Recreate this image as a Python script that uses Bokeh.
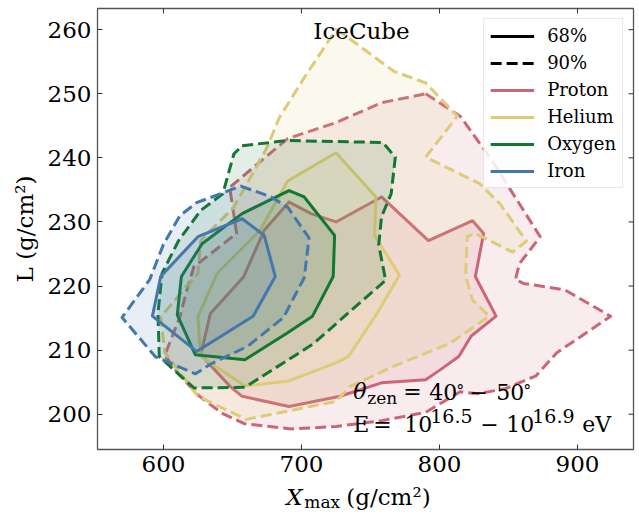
import math
from bokeh.plotting import figure
from bokeh.layouts import column
from bokeh.models import Range1d, FixedTicker, Label, Legend, LegendItem
from bokeh.embed import file_html
from bokeh.resources import INLINE

# ---------------- data ----------------
x_ticks = [600, 700, 800, 900]
y_ticks = [200, 210, 220, 230, 240, 250, 260]

species_names = ["Proton", "Helium", "Oxygen", "Iron"]
species_colors = ["#CC6677", "#DDCC77", "#117733", "#4477AA"]

proton_90_x = [790, 815, 838, 858, 873, 858, 855, 861, 891, 924, 903, 885, 870, 848, 828,
               815, 790, 758, 725, 693, 659, 642, 625, 610, 601, 612, 617, 622, 653, 648,
               690, 725, 758]
proton_90_y = [250, 246.5, 239.6, 232.8, 227.7, 223.5, 221, 220.4, 219.4, 215.3, 212.2,
               209.6, 206, 204, 203.2, 203.5, 200.3, 199, 198.1, 197.7, 198.5, 200.2, 203,
               206.5, 209.2, 215.3, 219.4, 223, 228.2, 235.4, 243, 245.5, 248.6]
proton_68_x = [691, 707, 725, 758, 792, 824, 832, 826, 841, 823, 814, 801, 790, 758, 728,
               691, 657, 648, 627, 634, 658, 673]
proton_68_y = [233.1, 231.3, 230, 233.9, 227.1, 230.2, 228.2, 221.5, 215.3, 212.2, 209,
               207, 205.4, 204.9, 202.8, 201.2, 202.8, 204.4, 209.3, 215.7, 221.4, 228.7]

helium_90_x = [725, 731, 767, 790, 813, 790, 829, 844, 863, 853, 826, 820, 819, 824, 836,
               808, 767, 735, 725, 660, 625, 601, 598, 625, 627, 651, 675, 684, 702]
helium_90_y = [260, 259.2, 253.5, 251.7, 246.5, 240.1, 236, 232.8, 227, 225.3, 228.2,
               227.7, 221.5, 217.8, 215.3, 211.1, 207.5, 204.3, 202, 199.2, 202.8, 209.6,
               215.2, 222, 227.1, 232.3, 241.6, 246.3, 252.5]
helium_68_x = [725, 754, 753, 771, 755, 734, 725, 691, 659, 627, 625, 639, 670, 690]
helium_68_y = [240.8, 233.9, 227.9, 221.7, 215.8, 209, 208, 205.2, 204.4, 209, 215.2, 222,
               228.7, 236.4]

oxygen_90_x = [657, 690, 759, 768, 765, 758, 756, 761, 708, 659, 622, 597, 596, 599, 611,
               627, 643, 651]
oxygen_90_y = [241.9, 242.7, 242.4, 240.1, 234.4, 230.8, 226.4, 220.9, 210.9, 204.2, 204.1,
               209, 215.7, 222, 227.1, 231.8, 234.4, 240.6]
oxygen_68_x = [691, 702, 724, 723, 708, 690, 659, 623, 610, 613, 628, 657]
oxygen_68_y = [234.9, 233.9, 227.9, 221.5, 215.3, 212.7, 208.5, 209.3, 215.5, 221.5, 226.6,
               231.3]

iron_90_x = [656, 678, 690, 705.5, 702, 687, 661, 634, 623, 594, 570, 590, 600, 612, 624]
iron_90_y = [235.6, 233.9, 232.3, 227.5, 221.3, 215.1, 210.6, 207.8, 206.3, 209, 215.1,
             221, 226.5, 231, 233]
iron_68_x = [657, 673, 681, 665, 624, 592, 598, 625]
iron_68_y = [230.5, 227.9, 221.5, 215.3, 209.8, 215.3, 221.5, 227.7]

contours_90 = [(proton_90_x, proton_90_y), (helium_90_x, helium_90_y),
               (oxygen_90_x, oxygen_90_y), (iron_90_x, iron_90_y)]
contours_68 = [(proton_68_x, proton_68_y), (helium_68_x, helium_68_y),
               (oxygen_68_x, oxygen_68_y), (iron_68_x, iron_68_y)]

level_labels = ["68%", "90%"]

# ---------------- figure ----------------
FONT = "DejaVu Serif"
DASH = "11 5"
NAN = float("nan")
LIFT = 0.38  # em; compensates the baseline placement of SVG text

x_range = Range1d(552.2, 940.6)
y_range = Range1d(194.5, 263.3)
FRAME_H = 441

p = figure(width=639, height=483, output_backend="svg", toolbar_location=None,
           x_range=x_range, y_range=y_range,
           min_border_left=97, min_border_right=6, min_border_top=8, min_border_bottom=34)
p.grid.visible = False
p.background_fill_color = "white"
p.border_fill_color = "white"
p.outline_line_color = "#555555"
p.outline_line_width = 1.3


def style_axis(ax, ticks):
    ax.ticker = FixedTicker(ticks=ticks)
    ax.axis_line_color = None
    ax.major_tick_in = 5
    ax.major_tick_out = 0
    ax.major_tick_line_color = "#333333"
    ax.major_tick_line_width = 1
    ax.minor_tick_line_color = None
    ax.major_label_text_font = FONT
    ax.major_label_text_color = "black"
    ax.major_label_text_font_size = "23px"
    ax.major_label_standoff = 6


style_axis(p.xaxis[0], x_ticks)
style_axis(p.yaxis[0], y_ticks)
p.yaxis[0].axis_label = "L (g/cm\u00b2)"
p.yaxis[0].axis_label_text_font = FONT
p.yaxis[0].axis_label_text_font_size = "23px"
p.yaxis[0].axis_label_text_font_style = "normal"
p.yaxis[0].axis_label_text_color = "black"
p.yaxis[0].axis_label_standoff = 7

# mirrored inward ticks on the top and right edges (half of each dash is clipped)
p.scatter(x=x_ticks, y=[y_range.end] * len(x_ticks), marker="dash", size=10,
          angle=math.pi / 2, line_color="#333333", line_width=1)
p.scatter(x=[x_range.end] * len(y_ticks), y=y_ticks, marker="dash", size=10,
          line_color="#333333", line_width=1)

# contours
for color, (x90, y90), (x68, y68) in zip(species_colors, contours_90, contours_68):
    p.patch(x90, y90, fill_color=color, fill_alpha=0.12, line_color=color,
            line_width=3, line_dash=DASH, line_join="round")
    p.patch(x68, y68, fill_color=color, fill_alpha=0.12, line_color=color,
            line_width=3, line_join="round")

# legend (proxy lines with no visible data)
items = []
r = p.line(x=[NAN, NAN], y=[NAN, NAN], line_color="black", line_width=3)
items.append(LegendItem(label=level_labels[0], renderers=[r]))
r = p.line(x=[NAN, NAN], y=[NAN, NAN], line_color="black", line_width=3, line_dash=DASH)
items.append(LegendItem(label=level_labels[1], renderers=[r]))
for name, color in zip(species_names, species_colors):
    r = p.line(x=[NAN, NAN], y=[NAN, NAN], line_color=color, line_width=3)
    items.append(LegendItem(label=name, renderers=[r]))

legend = Legend(items=items, location="top_right", margin=10, padding=6, spacing=6,
                glyph_width=44, glyph_height=20, label_standoff=13,
                label_text_font=FONT, label_text_font_size="18px", label_text_color="black",
                border_line_color="#d0d0d0", border_line_width=1,
                background_fill_color="white", background_fill_alpha=0.85)
p.add_layout(legend)


def add_text(fig, px_per_unit, x, y, text, size, dx=0, style="normal", align="left"):
    y_adj = y + LIFT * size / px_per_unit
    fig.add_layout(Label(x=x, y=y_adj, x_offset=dx, text=text, text_font=FONT,
                         text_font_size=f"{size}px", text_font_style=style,
                         text_align=align, text_baseline="alphabetic", text_color="black"))


ppu = FRAME_H / (y_range.end - y_range.start)

# title text
add_text(p, ppu, 743.5, 258.4, "IceCube", 23, align="center")

# annotation row 1
ax0, r1, r1s, r1d = 737.5, 202.2, 201.45, 202.8
add_text(p, ppu, ax0, r1, "\u03b8", 22, 0, "italic")
add_text(p, ppu, ax0, r1s, "zen", 17, 14)
add_text(p, ppu, ax0, r1, "=", 22, 50)
add_text(p, ppu, ax0, r1, "40", 22, 76)
add_text(p, ppu, ax0, r1d, "\u00b0", 16, 103)
add_text(p, ppu, ax0, r1, "\u2212", 22, 116)
add_text(p, ppu, ax0, r1, "50", 22, 143)
add_text(p, ppu, ax0, r1d, "\u00b0", 16, 170)

# annotation row 2
r2, r2s = 197.15, 198.6
add_text(p, ppu, ax0, r2, "E", 22, 0)
add_text(p, ppu, ax0, r2, "=", 22, 20)
add_text(p, ppu, ax0, r2, "10", 22, 51)
add_text(p, ppu, ax0, r2s, "16.5", 19, 77)
add_text(p, ppu, ax0, r2, "\u2212", 22, 127)
add_text(p, ppu, ax0, r2, "10", 22, 153)
add_text(p, ppu, ax0, r2s, "16.9", 19, 179)
add_text(p, ppu, ax0, r2, "eV", 22, 229)

# ---------------- x-axis label strip (X_max (g/cm^2)) ----------------
strip_h = 32
p2 = figure(width=639, height=strip_h, output_backend="svg", toolbar_location=None,
            x_range=x_range, y_range=Range1d(0, strip_h),
            x_axis_location=None, y_axis_location=None,
            min_border_left=97, min_border_right=6, min_border_top=0, min_border_bottom=0)
p2.grid.visible = False
p2.outline_line_color = None
p2.background_fill_color = "white"
p2.border_fill_color = "white"

xl0 = 689.0
add_text(p2, 1.0, xl0, 10, "X", 23, 0, "italic")
add_text(p2, 1.0, xl0, 7, "max", 17, 18)
add_text(p2, 1.0, xl0, 10, "(g/cm\u00b2)", 23, 60)

layout = column(p, p2, spacing=0)
open("out.html", "w").write(file_html(layout, INLINE))
